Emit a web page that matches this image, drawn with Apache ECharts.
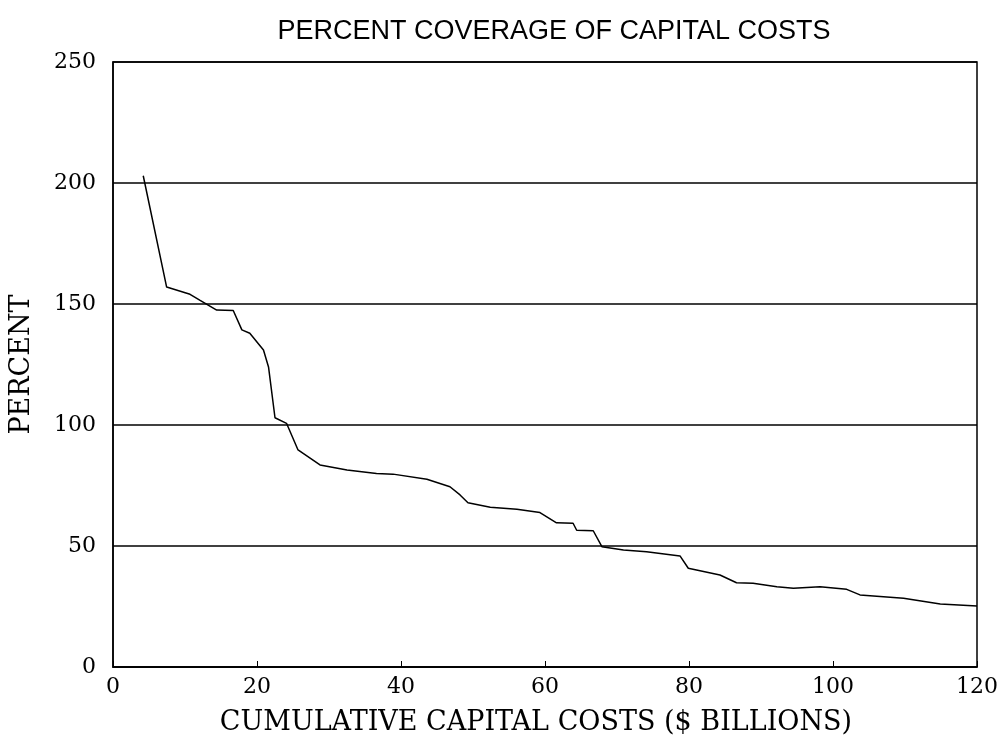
<!DOCTYPE html>
<html><head><meta charset="utf-8">
<script src="https://cdn.jsdelivr.net/npm/echarts@6/dist/echarts.min.js"></script>
<style>html,body{margin:0;padding:0;background:#fff}#c{width:1006px;height:755px}</style>
</head><body><div id="c"></div>
<script>
const costX = [4.2, 7.45, 10.7, 12.1, 14.4, 16.7, 17.9, 19.0, 20.9, 21.6, 22.5, 24.1, 25.7, 28.75, 32.5, 36.6, 38.9, 43.6, 46.8, 48.2, 49.3, 52.4, 56.1, 59.3, 61.6, 63.9, 64.4, 66.7, 67.9, 70.9, 74.1, 78.75, 79.9, 84.3, 86.6, 88.9, 92.2, 94.5, 98.2, 101.9, 103.75, 109.8, 114.9, 120];
const percentY = [203, 157, 154, 151.5, 147.5, 147.3, 139.3, 137.9, 131, 124, 103, 100.7, 89.7, 83.5, 81.4, 80, 79.7, 77.6, 74.5, 71.1, 67.9, 66, 65.2, 63.8, 59.6, 59.4, 56.5, 56.3, 49.7, 48.3, 47.6, 45.9, 40.8, 38, 34.8, 34.6, 33.2, 32.5, 33.2, 32.1, 29.8, 28.4, 26, 25.2];
const titleText = 'PERCENT COVERAGE OF CAPITAL COSTS';
const xName = 'CUMULATIVE CAPITAL COSTS ($ BILLIONS)';
const yName = 'PERCENT';

const chart = echarts.init(document.getElementById('c'));
const serif = '"DejaVu Serif", "Liberation Serif", serif';
chart.setOption({
  animation: false,
  backgroundColor: '#fff',
  title: { text: titleText, left: 549, top: 13, textAlign: 'center',
    textStyle: { fontFamily: '"Liberation Sans", Arial, sans-serif', fontWeight: 'normal', fontSize: 27, color: '#000' } },
  grid: { left: 113, right: 29, top: 62, bottom: 88, containLabel: false, outerBoundsMode: 'none',
    show: true, borderColor: '#000', borderWidth: 1.5, backgroundColor: 'transparent' },
  xAxis: {
    type: 'value', min: 0, max: 120, interval: 20,
    name: xName, nameLocation: 'middle', nameGap: 42,
    nameTextStyle: { fontFamily: serif, fontSize: 27, color: '#000', padding: [0, 18, 0, 0] },
    axisLine: { show: true, lineStyle: { color: '#000', width: 1.5 } },
    axisTick: { show: true, inside: true, length: 6, lineStyle: { color: '#000' } },
    axisLabel: { fontFamily: serif, fontSize: 22, color: '#000', margin: 9 },
    splitLine: { show: false }
  },
  yAxis: {
    type: 'value', min: 0, max: 250, interval: 50,
    name: yName, nameLocation: 'middle', nameGap: 78, nameRotate: 90,
    nameTextStyle: { fontFamily: serif, fontSize: 27, color: '#000' },
    axisLine: { show: true, lineStyle: { color: '#000', width: 1.5 } },
    axisTick: { show: false },
    axisLabel: { fontFamily: serif, fontSize: 22, color: '#000', margin: 17 },
    splitLine: { show: true, lineStyle: { color: '#000', width: 1.5 } }
  },
  series: [{
    type: 'line', showSymbol: false,
    data: costX.map((x, i) => [x, percentY[i]]),
    lineStyle: { color: '#000', width: 1.5 }
  }]
});
</script></body></html>
